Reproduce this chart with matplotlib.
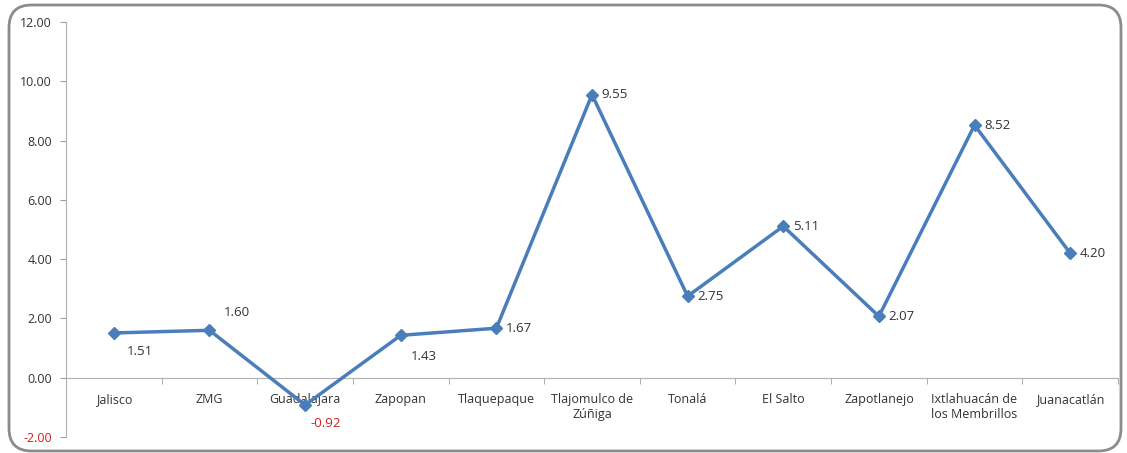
import matplotlib
matplotlib.use('Agg')
import matplotlib.pyplot as plt
from matplotlib.patches import FancyBboxPatch
import numpy as np

categories = ['Jalisco', 'ZMG', 'Guadalajara', 'Zapopan', 'Tlaquepaque',
              'Tlajomulco de\nZúñiga', 'Tonalá', 'El Salto', 'Zapotlanejo',
              'Ixtlahuacán de\nlos Membrillos', 'Juanacatlán']
values = [1.51, 1.60, -0.92, 1.43, 1.67, 9.55, 2.75, 5.11, 2.07, 8.52, 4.20]
value_labels = ['1.51', '1.60', '-0.92', '1.43', '1.67', '9.55', '2.75', '5.11', '2.07', '8.52', '4.20']
y_ticks = [-2, 0, 2, 4, 6, 8, 10, 12]

plt.rcParams['font.family'] = ['Open Sans', 'DejaVu Sans']

fig = plt.figure(figsize=(11.27, 4.53), dpi=100)
ax = fig.add_axes([66 / 1127, 1 - 437 / 453, (1118 - 66) / 1127, (437 - 22) / 453])

# rounded chart frame (bottom edge runs off the picture)
frame = FancyBboxPatch((9 / 1127, 2 / 453), 1112 / 1127, 446 / 453,
                       boxstyle='round,pad=0,rounding_size=0.02',
                       transform=fig.transFigure, fill=False,
                       edgecolor='#8c8c8c', linewidth=2, mutation_aspect=1127 / 453)
fig.patches.append(frame)

x = np.arange(len(categories))
blue = '#4a7ebb'
ax.plot(x, values, color=blue, linewidth=2.5, marker='D', markersize=6, zorder=3)

# data labels
offsets = [(9, -13), (10, 13), (4, -13), (7, -15), (7, 0), (7, 0),
           (7, 0), (7, 0), (7, 0), (7, 0), (7, 0)]
for xi, v, lab, off in zip(x, values, value_labels, offsets):
    col = '#d02020' if v < 0 else '#333333'
    ax.annotate(lab, (xi, v), xytext=off, textcoords='offset points',
                fontsize=9.5, color=col, ha='left', va='center')

ax.set_xlim(-0.5, len(categories) - 0.5)
ax.set_ylim(-2, 12)
ax.set_yticks(y_ticks)
ax.set_yticklabels([f'{t:.2f}' for t in y_ticks], fontsize=9, color='#333333')
ax.get_yticklabels()[0].set_color('#d02020')
ax.tick_params(axis='y', length=4, color='#a0a0a0', direction='out', pad=6)

ax.spines['bottom'].set_position(('data', 0))
for s in ['top', 'right']:
    ax.spines[s].set_visible(False)
ax.spines['left'].set_color('#b0b0b0')
ax.spines['bottom'].set_color('#b0b0b0')

ax.set_xticks(x)
ax.set_xticklabels(categories, fontsize=9, color='#333333', va='top')
ax.tick_params(axis='x', length=0, pad=11)
ax.set_xticks(np.arange(0.5, len(categories), 1), minor=True)
ax.tick_params(axis='x', which='minor', length=4, color='#a0a0a0', direction='out')

fig.savefig('out.png', dpi=100)
